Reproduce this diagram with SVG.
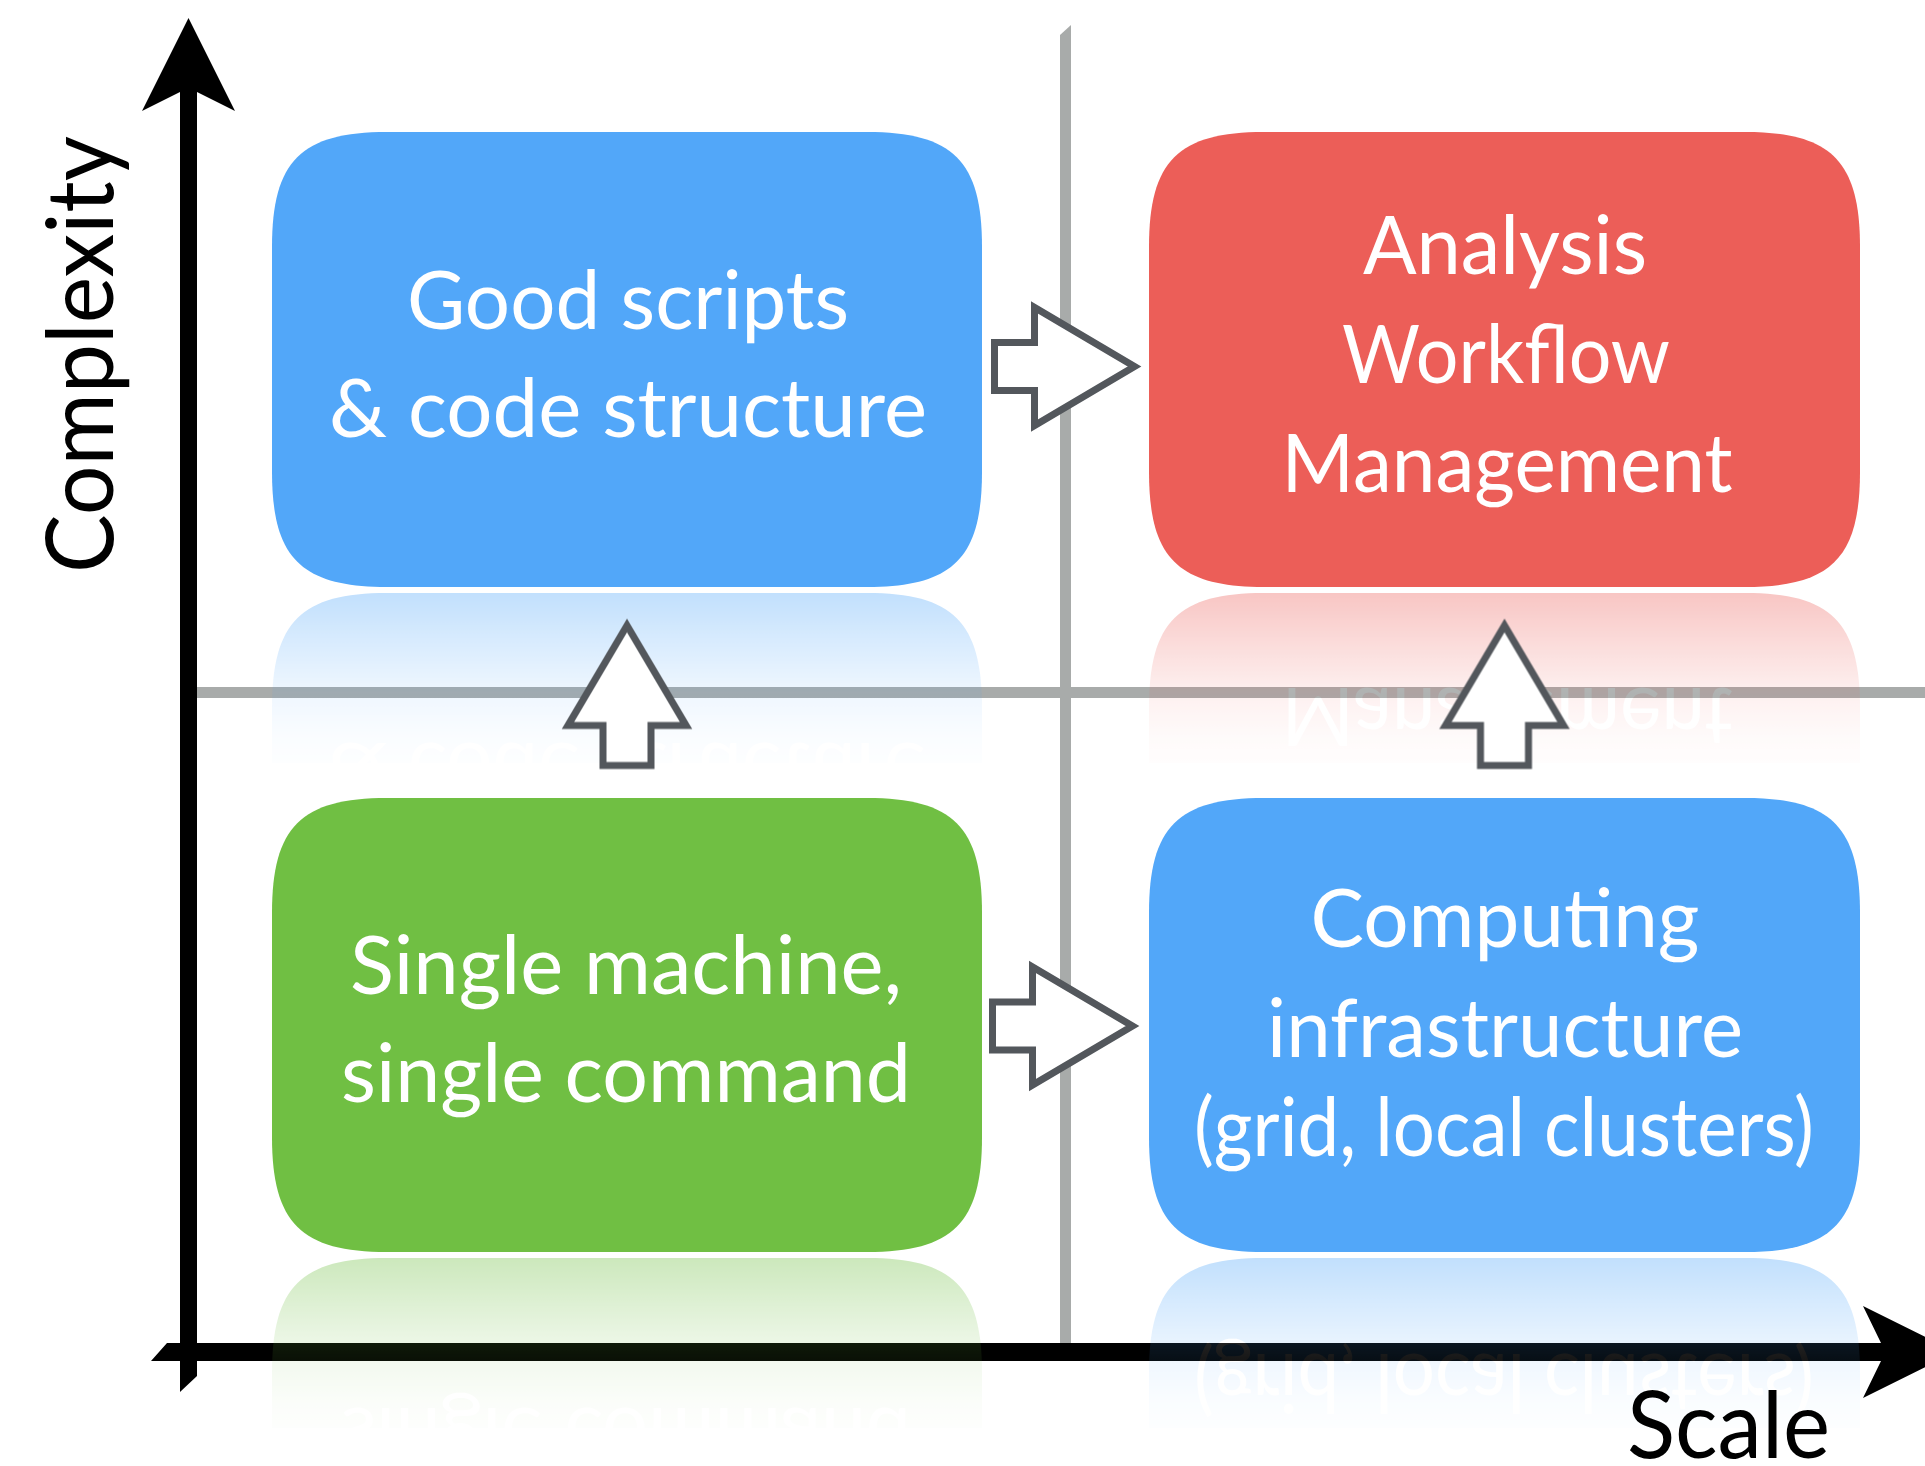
<svg xmlns="http://www.w3.org/2000/svg" xmlns:xlink="http://www.w3.org/1999/xlink" width="1925" height="1466" viewBox="0 0 1925 1466">
<style>
.lbl{font-family:Lato,"Liberation Sans",sans-serif;font-size:82px;fill:#ffffff;text-anchor:middle}
.axl{font-family:Lato,"Liberation Sans",sans-serif;font-size:94px;fill:#000000;text-anchor:middle}
.blue{fill:#52A7F9}
.red{fill:#EC5E58}
.green{fill:#70BF43}
.grid{fill:#A8ABAA}
.arrow{fill:#ffffff;stroke:#53575C;stroke-width:7;stroke-linejoin:miter;stroke-miterlimit:10}
</style>
<defs>
<linearGradient id="fadeG" x1="0" y1="0" x2="0" y2="1">
<stop offset="0" stop-color="#fff" stop-opacity="0.36"/>
<stop offset="0.3" stop-color="#fff" stop-opacity="0.22"/>
<stop offset="0.6" stop-color="#fff" stop-opacity="0.09"/>
<stop offset="0.85" stop-color="#fff" stop-opacity="0.03"/>
<stop offset="1" stop-color="#fff" stop-opacity="0.012"/>
</linearGradient>
<mask id="mTop" maskUnits="userSpaceOnUse" x="0" y="585" width="1925" height="185">
<rect x="0" y="592" width="1925" height="171" fill="url(#fadeG)"/>
</mask>
<mask id="mBot" maskUnits="userSpaceOnUse" x="0" y="1250" width="1925" height="185">
<rect x="0" y="1257" width="1925" height="171" fill="url(#fadeG)"/>
</mask>
<path id="blockArrow" d="M 0,-24 H 40 V -59 L 140,0 L 40,59 V 24 H 0 Z"/>
</defs>

<g id="grid-lines">
<polygon class="grid" points="1060,35 1071,25 1071,1343 1060,1343"/>
<rect class="grid" x="197" y="687" width="1728" height="11"/>
</g>

<g id="axes">
<polygon fill="#000" points="188.5,18 235,111 197,92 197,1376 180,1392 180,92 142,111"/>
<polygon fill="#000" points="167,1343 1881,1343 1863,1306 1956,1352 1863,1398 1881,1361 151,1361"/>
</g>

<g id="node-scripts">
<path class="blue" d="M 387,132 H 867 C 953,132 982,161 982,247 V 472 C 982,558 953,587 867,587 H 387 C 301,587 272,558 272,472 V 247 C 272,161 301,132 387,132 Z"/>
<text class="lbl" x="628" y="329" textLength="442" lengthAdjust="spacingAndGlyphs">Good scripts</text>
<text class="lbl" x="628" y="437" textLength="598" lengthAdjust="spacingAndGlyphs">&amp; code structure</text>
</g>

<g id="node-workflow">
<path class="red" d="M 1264,132 H 1745 C 1831,132 1860,161 1860,247 V 472 C 1860,558 1831,587 1745,587 H 1264 C 1178,587 1149,558 1149,472 V 247 C 1149,161 1178,132 1264,132 Z"/>
<text class="lbl" x="1505" y="274" textLength="284" lengthAdjust="spacingAndGlyphs">Analysis</text>
<text class="lbl" x="1506" y="383" textLength="328" lengthAdjust="spacingAndGlyphs">Workflow</text>
<text class="lbl" x="1507" y="492" textLength="451" lengthAdjust="spacingAndGlyphs">Management</text>
</g>

<g id="node-single">
<path class="green" d="M 387,798 H 867 C 953,798 982,827 982,913 V 1137 C 982,1223 953,1252 867,1252 H 387 C 301,1252 272,1223 272,1137 V 913 C 272,827 301,798 387,798 Z"/>
<text class="lbl" x="626" y="994" textLength="552" lengthAdjust="spacingAndGlyphs">Single machine,</text>
<text class="lbl" x="626" y="1102" textLength="570" lengthAdjust="spacingAndGlyphs">single command</text>
</g>

<g id="node-computing">
<path class="blue" d="M 1264,798 H 1745 C 1831,798 1860,827 1860,913 V 1137 C 1860,1223 1831,1252 1745,1252 H 1264 C 1178,1252 1149,1223 1149,1137 V 913 C 1149,827 1178,798 1264,798 Z"/>
<text class="lbl" x="1505" y="947" textLength="389" lengthAdjust="spacingAndGlyphs">Computing</text>
<text class="lbl" x="1505" y="1057" textLength="476" lengthAdjust="spacingAndGlyphs">infrastructure</text>
<text class="lbl" x="1504" y="1156" textLength="620" lengthAdjust="spacingAndGlyphs">(grid, local clusters)</text>
</g>

<g id="reflections">
<g mask="url(#mTop)">
<use href="#node-scripts" transform="translate(0,1180) scale(1,-1)"/>
<use href="#node-workflow" transform="translate(0,1180) scale(1,-1)"/>
</g>
<g mask="url(#mBot)">
<use href="#node-single" transform="translate(0,2510) scale(1,-1)"/>
<use href="#node-computing" transform="translate(0,2510) scale(1,-1)"/>
</g>
</g>

<g id="connectors">
<use href="#blockArrow" class="arrow" transform="translate(994.5,366.5)"/>
<use href="#blockArrow" class="arrow" transform="translate(992.5,1026)"/>
<use href="#blockArrow" class="arrow" transform="translate(627,765.5) rotate(-90)"/>
<use href="#blockArrow" class="arrow" transform="translate(1504.5,765.5) rotate(-90)"/>
</g>

<g id="axis-labels">
<text class="axl" transform="translate(113,354.5) rotate(-90)" x="0" y="0" textLength="437" lengthAdjust="spacingAndGlyphs">Complexity</text>
<text class="axl" x="1728.5" y="1458" textLength="203" lengthAdjust="spacingAndGlyphs">Scale</text>
</g>
</svg>
